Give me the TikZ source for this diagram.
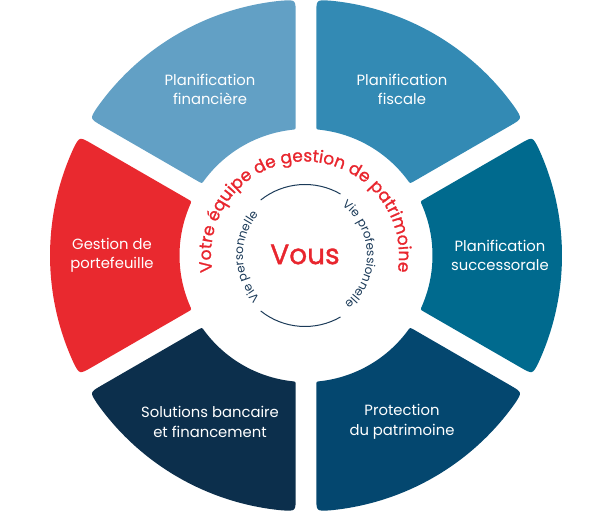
\documentclass[tikz,border=0pt]{standalone}
\usepackage{fontspec}
\setmainfont{Poppins}
\newfontfamily\popmed[FakeBold=1.2]{Poppins}
\usetikzlibrary{calc,decorations.text}
\definecolor{segA}{HTML}{62A0C5}
\definecolor{segB}{HTML}{338AB4}
\definecolor{segC}{HTML}{006A8E}
\definecolor{segD}{HTML}{04476F}
\definecolor{segE}{HTML}{0C2F4C}
\definecolor{segF}{HTML}{E9292F}
\definecolor{vred}{HTML}{E8262E}
\definecolor{navy}{HTML}{1B3A58}
\tikzset{
  seglabel/.style={text=white, align=center, font=\fontsize{14.8}{19.5}\selectfont, inner sep=0pt},
  innerarc/.style={draw=navy, line width=1pt},
}
\begin{document}
\begin{tikzpicture}[x=1pt,y=1pt]
\useasboundingbox (0,0) rectangle (614,511);
\coordinate (O) at (306,255.5);
\coordinate (Oi) at (305,255.5);
\def\Ro{256}\def\Ri{126.5}
\def\dO{2.31}\def\dI{4.67}
\def\eO{3.13}\def\eI{1.81}
\def\rO{14pt}\def\rI{4pt}
\foreach \ang/\col in {120/segA,60/segB,0/segC,-60/segD,-120/segE,180/segF}{
  \pgfmathsetmacro\aO{\ang-30+\dO}
  \pgfmathsetmacro\bO{\ang+30-\dO}
  \pgfmathsetmacro\aI{\ang-30+\dI}
  \pgfmathsetmacro\bI{\ang+30-\dI}
  \pgfmathsetmacro\sA{\aO+\eO}
  \pgfmathsetmacro\sB{\bO-\eO}
  \pgfmathsetmacro\sC{\bI-\eI}
  \pgfmathsetmacro\sD{\aI+\eI}
  \coordinate (Po1) at ($(O)+(\aO:\Ro)$);
  \coordinate (Po2) at ($(O)+(\bO:\Ro)$);
  \coordinate (Pi1) at ($(O)+(\aI:\Ri)$);
  \coordinate (Pi2) at ($(O)+(\bI:\Ri)$);
  \fill[\col] ($(O)+(\sA:\Ro)$) arc[start angle=\sA, end angle=\sB, radius=\Ro]
    .. controls (Po2) .. ($(Po2)!\rO!(Pi2)$)
    -- ($(Pi2)!\rI!(Po2)$)
    .. controls (Pi2) .. ($(O)+(\sC:\Ri)$)
    arc[start angle=\sC, end angle=\sD, radius=\Ri]
    .. controls (Pi1) .. ($(Pi1)!\rI!(Po1)$)
    -- ($(Po1)!\rO!(Pi1)$)
    .. controls (Po1) .. ($(O)+(\sA:\Ro)$) -- cycle;
}
\node[seglabel] (l1) at ($(O)+(120:192)$) {Planification\\financière};
\node[seglabel] (l2) at ($(O)+(60:192)$) {Planification\\fiscale};
\node[seglabel] (l3) at ($(O)+(0:194)$) {Planification\\successorale};
\node[seglabel] (l4) at ($(O)+(-60:192)$) {Protection\\du patrimoine};
\node[seglabel] (l5) at ($(O)+(-120:192)$) {Solutions bancaire\\et financement};
\node[seglabel] (l6) at ($(O)+(180:194)$) {Gestion de\\portefeuille};
\node[font=\popmed\fontsize{28}{28}\selectfont, text=vred, inner sep=0pt] (vous) at ($(Oi)+(0,1)$) {Vous};
\draw[innerarc] ($(Oi)+(60:71)$) arc[start angle=60, end angle=128.6, radius=71];
\draw[innerarc] ($(Oi)+(231.4:71)$) arc[start angle=231.4, end angle=300, radius=71];
\path[decorate, decoration={text along path, text align=center, text color=vred,
  text={|\popmed\fontsize{17}{17}\selectfont|Votre équipe de gestion de patrimoine}}]
  ($(Oi)+(188:94)$) arc[start angle=188, end angle=-8, radius=94];
\path[decorate, decoration={text along path, text align=center, text color=navy,
  text={|\fontsize{12}{12}\selectfont|Vie personnelle}}]
  ($(Oi)+(222:62)$) arc[start angle=222, end angle=140, radius=62];
\path[decorate, decoration={text along path, text align=center, text color=navy,
  text={|\fontsize{12}{12}\selectfont|Vie professionnelle}}]
  ($(Oi)+(52:62)$) arc[start angle=52, end angle=-49, radius=62];
\end{tikzpicture}
\end{document}
